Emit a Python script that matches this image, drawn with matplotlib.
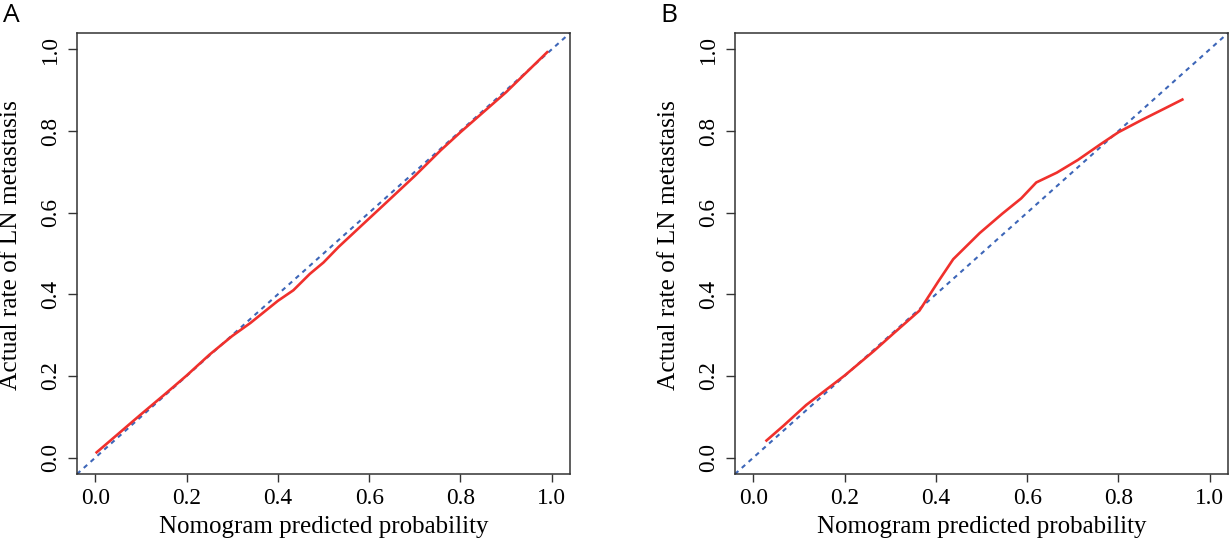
import matplotlib
matplotlib.use("Agg")
import matplotlib.pyplot as plt

# Calibration curves
a_pred = [0.003, 0.05, 0.10, 0.15, 0.20, 0.25, 0.30, 0.34, 0.40, 0.434, 0.47,
          0.50, 0.533, 0.58, 0.632, 0.70, 0.757, 0.80, 0.90, 0.99]
a_actual = [0.013, 0.058, 0.106, 0.153, 0.201, 0.252, 0.298, 0.330, 0.384, 0.410,
            0.450, 0.478, 0.516, 0.565, 0.619, 0.690, 0.753, 0.797, 0.895, 0.993]

b_pred = [0.029, 0.066, 0.116, 0.20, 0.264, 0.306, 0.364, 0.405, 0.438, 0.496,
          0.545, 0.587, 0.620, 0.665, 0.711, 0.760, 0.80, 0.851, 0.901, 0.940]
b_actual = [0.042, 0.078, 0.129, 0.201, 0.261, 0.303, 0.360, 0.431, 0.486, 0.550,
            0.597, 0.635, 0.674, 0.698, 0.729, 0.767, 0.797, 0.827, 0.855, 0.877]

ticks = [0.0, 0.2, 0.4, 0.6, 0.8, 1.0]
tick_labels = ["0.0", "0.2", "0.4", "0.6", "0.8", "1.0"]
panels = [("A", a_pred, a_actual), ("B", b_pred, b_actual)]

W, H = 1231, 545
fig = plt.figure(figsize=(W / 100, H / 100), dpi=100)

serif = "Liberation Serif"
lefts = [77, 735]
for (name, xs, ys), left in zip(panels, lefts):
    ax = fig.add_axes([left / W, 1 - 474 / H, 493 / W, 441 / H])
    ax.plot([-0.1, 1.1], [-0.1, 1.1], color="#3d66b8", lw=1.5,
            dashes=(2.2, 2.2))
    ax.plot(xs, ys, color="#f0302c", lw=1.9)
    ax.set_xlim(-0.04, 1.04)
    ax.set_ylim(-0.04, 1.04)
    ax.set_xticks(ticks)
    ax.set_xticklabels(tick_labels, fontfamily=serif, fontsize=16.8)
    ax.set_yticks(ticks)
    ax.set_yticklabels(tick_labels, fontfamily=serif, fontsize=16.8,
                       rotation=90, va="center")
    ax.tick_params(axis="x", length=6, width=1, color="#333333", pad=4)
    ax.tick_params(axis="y", length=6.5, width=1, color="#333333", pad=5)
    for s in ax.spines.values():
        s.set_color("#333333")
        s.set_linewidth(1.1)
    ax.set_xlabel("Nomogram predicted probability", fontfamily=serif,
                  fontsize=18, labelpad=5)
    ax.set_ylabel("Actual rate of LN metastasis", fontfamily=serif,
                  fontsize=18.3)
    ax.yaxis.set_label_coords(-55 / 493, 0.52)
    fig.text((left - 66) / W, 1 - 15 / H, name, fontfamily="Open Sans",
             fontsize=19, ha="center", va="center")

fig.savefig("out.png", dpi=100)
